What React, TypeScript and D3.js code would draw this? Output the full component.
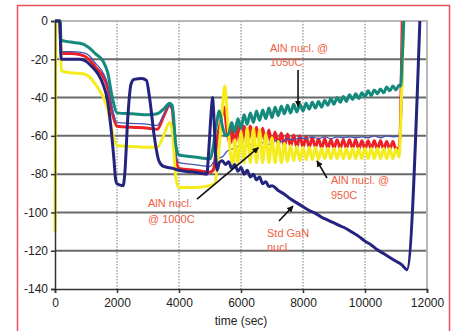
import React, {useEffect, useRef} from 'react';
import * as d3 from 'd3';

// [time (sec), value]
const stdGaN = [
    [0, 0], [150, 0], [200, -20], [500, -20], [800, -20], [1000, -21], [1200, -24], [1400, -28],
    [1550, -33], [1700, -42], [1800, -55], [1900, -72], [1950, -82], [2000, -85], [2200, -86],
    [2250, -80], [2350, -50], [2450, -33], [2550, -30.5], [2800, -30], [2950, -31], [3050, -40],
    [3200, -60], [3350, -73], [3500, -76], [3800, -77], [4000, -78], [4500, -79], [4900, -80],
    [4950, -70], [5050, -45], [5080, -40], [5120, -48], [5180, -70], [5230, -78], [5300, -74],
    [5400, -73], [5500, -75], [5600, -73.5], [5700, -77], [5800, -75], [5900, -78.5], [6000, -76.5],
    [6100, -80], [6200, -78], [6300, -81.5], [6400, -80], [6500, -83], [6600, -81.5], [6700, -85],
    [6800, -84], [6900, -86.5], [7000, -86], [7200, -88.5], [7400, -90.5], [7600, -93], [7800, -95],
    [8000, -97], [8200, -99], [8400, -100.5], [8600, -102.5], [8800, -104], [9000, -105.5],
    [9200, -107], [9400, -108.5], [9600, -110.5], [9800, -112.5], [10000, -115], [10200, -117],
    [10400, -119.5], [10600, -121.5], [10800, -123.5], [11000, -125.5], [11200, -127.5],
    [11350, -130], [11770, 0],
];

const thinBlue = [
    [0, 0], [150, 0], [200, -16], [500, -16], [900, -16.5], [1100, -18], [1300, -22], [1550, -27],
    [1700, -33], [1850, -46], [2000, -53], [2500, -53.5], [3000, -54], [3300, -54.5], [3500, -49],
    [3700, -44], [3780, -46], [3900, -70], [4000, -74], [4500, -75], [5000, -76], [5100, -74],
    [5200, -72], [5400, -71], [5550, -68], [5700, -67], [5900, -65.5], [6100, -66.5], [6300, -64.5],
    [6500, -65.5], [6700, -63.5], [6900, -64.5], [7100, -62.5], [7300, -63], [7500, -61.5],
    [7700, -62], [7900, -61], [8100, -61.5], [8300, -60.5], [8500, -61.5], [8700, -60.5],
    [8900, -61.5], [9100, -60.5], [9300, -61], [9500, -60.5], [9700, -61], [9900, -60.5],
    [10100, -61], [10300, -60], [10500, -61], [10700, -60], [10900, -60.5], [11100, -60],
    [11200, -40], [11250, 0],
];

const aln1000 = [
    [0, 0], [150, 0], [200, -17], [500, -17], [800, -17.5], [1100, -20], [1300, -24], [1550, -29],
    [1700, -35], [1850, -48], [2000, -55], [2500, -55.5], [3000, -56], [3300, -56.5], [3500, -50],
    [3700, -44], [3780, -46], [3900, -72], [4000, -77], [4500, -78], [5000, -79], [5100, -78],
    [5250, -60], [5350, -52], [5450, -45], [5550, -58], [5650, -64], [5700, -54], [5800, -65],
    [5900, -55], [6000, -65], [6100, -55], [6200, -64.5], [6300, -55], [6400, -64.5], [6500, -55.5],
    [6600, -64.5], [6700, -56], [6800, -64.5], [6900, -57], [7000, -65], [7100, -58], [7200, -65],
    [7300, -58.5], [7400, -65.5], [7500, -59], [7600, -65.5], [7700, -59.5], [7800, -66],
    [7900, -60], [8000, -66], [8100, -60.5], [8200, -66], [8300, -61], [8400, -66], [8500, -61.5],
    [8600, -66.5], [8700, -61.5], [8800, -66.5], [8900, -62], [9000, -66.5], [9100, -62],
    [9200, -66.5], [9300, -62], [9400, -66.5], [9500, -62], [9600, -66.5], [9700, -62], [9800, -67],
    [9900, -62.5], [10000, -67], [10100, -62.5], [10200, -67], [10300, -62.5], [10400, -67],
    [10500, -62.5], [10600, -67], [10700, -63], [10800, -67], [10900, -63], [11000, -67],
    [11100, -66], [11150, -50], [11200, 0],
];

const aln950 = [
    [0, -110], [30, 0], [170, 0], [200, -26], [500, -27], [900, -27.5], [1100, -29], [1300, -33],
    [1500, -38], [1700, -46], [1850, -58], [2000, -65], [2500, -65.5], [3000, -66], [3300, -66],
    [3500, -60], [3700, -53], [3780, -57], [3900, -82], [4000, -87], [4500, -87], [5000, -86],
    [5150, -85], [5300, -65], [5400, -45], [5480, -34], [5560, -50], [5650, -68], [5750, -75],
    [5800, -62], [5900, -74], [6000, -58], [6100, -74], [6200, -56], [6300, -74], [6400, -56],
    [6500, -74], [6600, -57], [6700, -74], [6800, -59], [6900, -74], [7000, -61], [7100, -74],
    [7200, -63], [7300, -74], [7400, -64], [7500, -73.5], [7600, -65], [7700, -73], [7800, -65.5],
    [7900, -73], [8000, -66], [8100, -72.5], [8200, -66], [8300, -72.5], [8400, -66], [8500, -72.5],
    [8600, -66.5], [8700, -72], [8800, -66.5], [8900, -72], [9000, -66.5], [9100, -72],
    [9200, -66.5], [9300, -72], [9400, -66.5], [9500, -72], [9600, -66.5], [9700, -72],
    [9800, -66.5], [9900, -72], [10000, -66.5], [10100, -72], [10200, -66.5], [10300, -72],
    [10400, -66.5], [10500, -72], [10600, -66.5], [10700, -72], [10800, -66.5], [10900, -72],
    [11000, -67], [11100, -71], [11150, -55], [11250, 0],
];

const aln1050 = [
    [0, 0], [170, 0], [190, -10], [500, -11], [900, -12], [1100, -14], [1300, -17], [1550, -21],
    [1700, -27], [1850, -40], [2000, -48], [2500, -48.5], [3000, -49], [3300, -48.5], [3500, -46],
    [3700, -43], [3780, -44], [3900, -65], [4000, -70], [4500, -71], [5000, -72], [5100, -66],
    [5200, -55], [5300, -47], [5400, -55], [5500, -60], [5600, -59], [5700, -53], [5800, -58],
    [5900, -51], [6000, -56], [6100, -49], [6200, -54], [6300, -48], [6400, -53], [6500, -47],
    [6600, -52], [6700, -46.5], [6800, -51], [6900, -45.5], [7000, -50.5], [7100, -45],
    [7200, -49.5], [7300, -44.5], [7400, -48.5], [7500, -44], [7600, -48], [7700, -43.5],
    [7800, -47.5], [7900, -43.5], [8000, -47], [8100, -43], [8200, -46], [8300, -42.5],
    [8400, -45.5], [8500, -42], [8600, -45], [8700, -41.5], [8800, -44], [8900, -40.5],
    [9000, -43.5], [9100, -40], [9200, -42.5], [9300, -39.5], [9400, -42], [9500, -38.5],
    [9600, -41], [9700, -38], [9800, -40.5], [9900, -37.5], [10000, -39.5], [10100, -36.5],
    [10200, -39], [10300, -36], [10400, -38], [10500, -35.5], [10600, -37.5], [10700, -34.5],
    [10800, -36.5], [10900, -34], [11000, -36], [11100, -33.5], [11150, -34], [11200, -20],
    [11250, 0],
];

const xTicks = [0, 2000, 4000, 6000, 8000, 10000, 12000];
const yTicks = [0, -20, -40, -60, -80, -100, -120, -140];

// text lines, anchor [time, value] of first baseline, line height, arrow from/to
const notes = [
    {lines: ['AlN nucl. @', '1050C'], at: [6935, -16.2], lh: 14, from: [7840, -25.6], to: [7840, -44.6]},
    {lines: ['AlN nucl.', '@ 1000C'], at: [3000, -97.2], lh: 16, from: [4580, -93], to: [6560, -66.2]},
    {lines: ['AlN nucl. @', '950C'], at: [8900, -85.2], lh: 15, from: [8774, -82], to: [8452, -73.1]},
    {lines: ['Std GaN', 'nucl.'], at: [6839, -112.9], lh: 14, from: [7226, -104.5], to: [7677, -96.7]},
];

const App = () => {
    const svgRef = useRef(null);

    useEffect(() => {
        const svg = d3.select(svgRef.current);
        svg.selectAll('*').remove();

        const margin = {top: 21, left: 55, right: 28, bottom: 42};
        const width = 455;
        const height = 331;
        const x = d3.scaleLinear().domain([0, 12000]).range([margin.left, width - margin.right]);
        const y = d3.scaleLinear().domain([-140, 0]).range([height - margin.bottom, margin.top]);
        const font = '"Liberation Sans", Arial, sans-serif';

        svg.append('rect').attr('width', width).attr('height', height).attr('fill', '#fff');

        // outer red frame
        svg.append('rect')
            .attr('x', 17.5).attr('y', 5.5).attr('width', 432).attr('height', 340)
            .attr('fill', 'none').attr('stroke', '#e2505c').attr('stroke-width', 1.5);

        const g = svg.append('g');

        // vertical dotted grid
        g.selectAll('.vgrid')
            .data(xTicks.slice(1, -1))
            .join('line')
            .attr('x1', (d) => x(d)).attr('x2', (d) => x(d))
            .attr('y1', y(0)).attr('y2', y(-140))
            .attr('stroke', '#7a7a7a').attr('stroke-width', 1).attr('stroke-dasharray', '1.5,1.5');

        // horizontal grid
        g.selectAll('.hgrid')
            .data(yTicks.slice(1, -1))
            .join('line')
            .attr('x1', x(0)).attr('x2', x(12000))
            .attr('y1', (d) => y(d)).attr('y2', (d) => y(d))
            .attr('stroke', '#6a6a6a').attr('stroke-width', 2);

        // top & right border
        g.append('path')
            .attr('d', `M${x(0)},${y(0)}H${x(12000)}V${y(-140)}`)
            .attr('fill', 'none').attr('stroke', '#b8b8b8').attr('stroke-width', 2);

        // series
        const line = d3.line().curve(d3.curveMonotoneX).x((d) => x(d[0])).y((d) => y(d[1]));
        const series = [
            {data: aln1000, color: '#ec2027', w: 3},
            {data: thinBlue, color: '#4553b5', w: 1.3},
            {data: aln950, color: '#f4ec1c', w: 3},
            {data: aln1050, color: '#148a7c', w: 3},
            {data: stdGaN, color: '#24247f', w: 3},
        ];
        g.selectAll('.series')
            .data(series)
            .join('path')
            .attr('d', (d) => line(d.data))
            .attr('fill', 'none')
            .attr('stroke', (d) => d.color)
            .attr('stroke-width', (d) => d.w)
            .attr('stroke-linejoin', 'round');

        // axes
        const yAxis = d3.axisLeft(y).tickValues(yTicks).tickSize(4).tickFormat((d) => d);
        const ay = g.append('g').attr('transform', `translate(${x(0)},0)`).call(yAxis);
        const xAxis = d3.axisBottom(x).tickValues(xTicks).tickSize(4).tickFormat((d) => d);
        const ax = g.append('g').attr('transform', `translate(0,${y(-140)})`).call(xAxis);
        [ax, ay].forEach((a) => {
            a.select('.domain').attr('stroke', '#333').attr('stroke-width', 1.5);
            a.selectAll('.tick line').attr('stroke', '#333').attr('stroke-width', 1.5);
            a.selectAll('text').attr('font-family', font).attr('font-size', 12).attr('fill', '#222');
        });
        ay.selectAll('text').attr('x', -7);
        ax.selectAll('text').attr('y', 9);

        svg.append('text')
            .attr('x', (x(0) + x(12000)) / 2).attr('y', 325)
            .attr('text-anchor', 'middle')
            .attr('font-family', font).attr('font-size', 12).attr('fill', '#222')
            .text('time (sec)');

        // annotations
        const defs = svg.append('defs');
        defs.append('marker')
            .attr('id', 'arr').attr('viewBox', '0 0 10 10').attr('refX', 9).attr('refY', 5)
            .attr('markerWidth', 4).attr('markerHeight', 4).attr('orient', 'auto')
            .append('path').attr('d', 'M0,0L10,5L0,10z').attr('fill', '#111');

        notes.forEach((n) => {
            const t = svg.append('text')
                .attr('font-family', font).attr('font-size', 11).attr('fill', '#f0603f');
            n.lines.forEach((s, i) => {
                t.append('tspan').attr('x', x(n.at[0])).attr('y', y(n.at[1]) + i * n.lh).text(s);
            });
            svg.append('line')
                .attr('x1', x(n.from[0])).attr('y1', y(n.from[1]))
                .attr('x2', x(n.to[0])).attr('y2', y(n.to[1]))
                .attr('stroke', '#111').attr('stroke-width', 1.6)
                .attr('marker-end', 'url(#arr)');
        });
    }, []);

    return <svg ref={svgRef} width={455} height={331} style={{position: 'absolute', left: 0, top: 0}} />;
};

export default App;
